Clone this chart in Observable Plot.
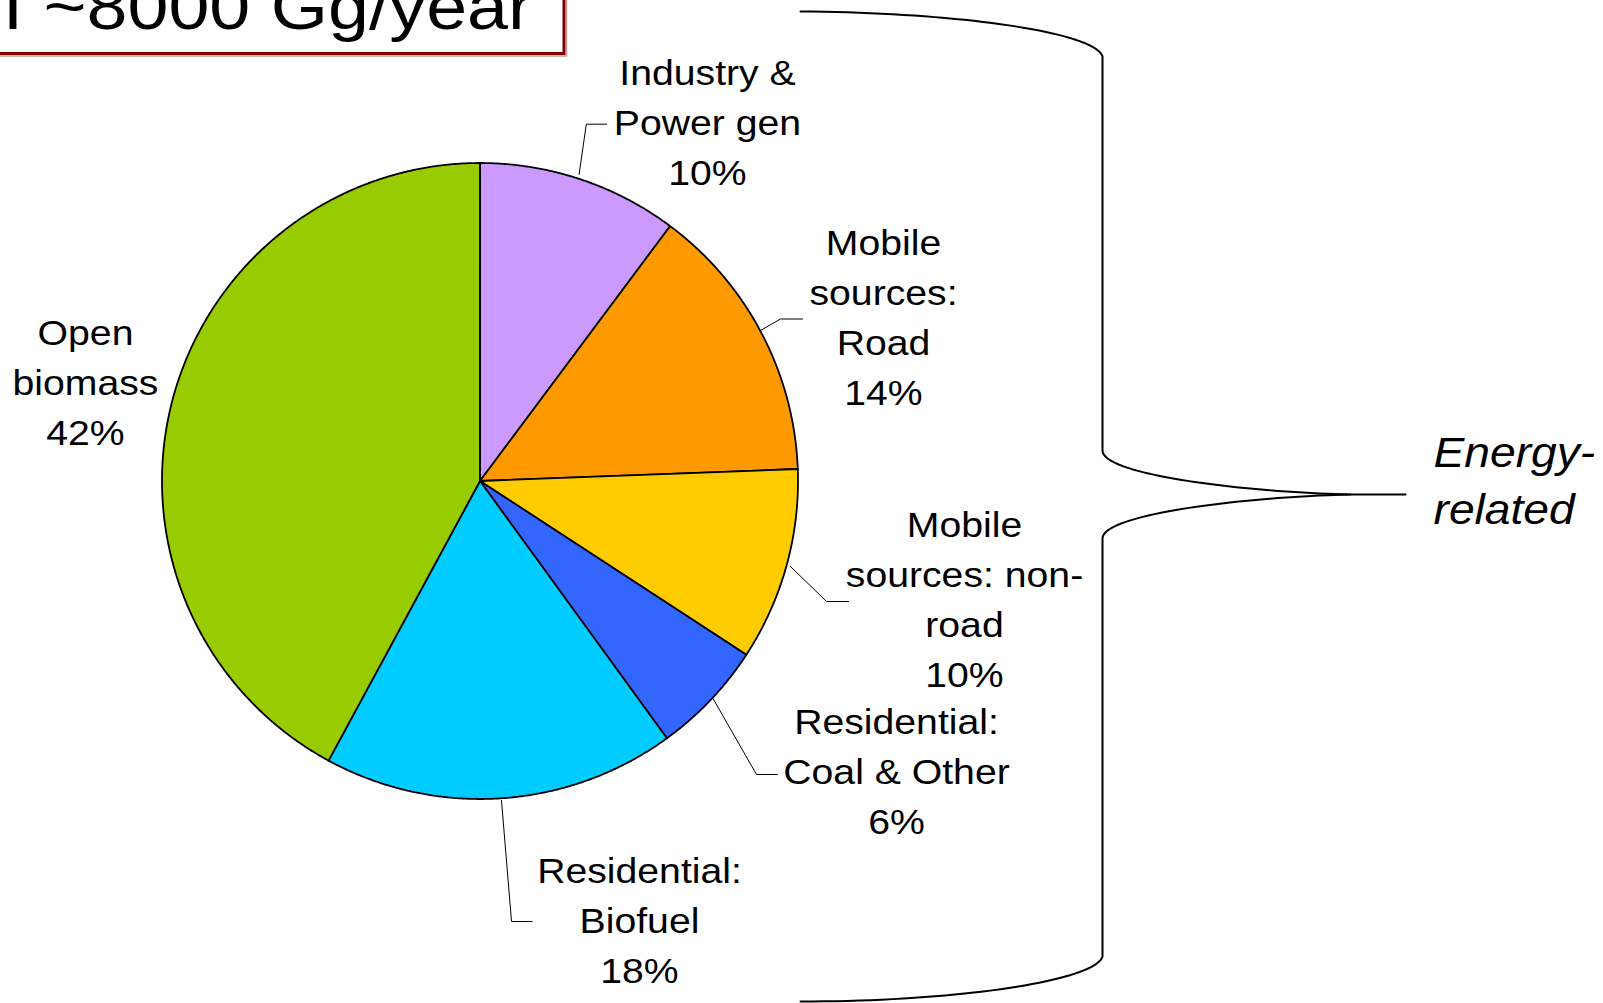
<!DOCTYPE html>
<html>
<head>
<meta charset="utf-8">
<script src="https://cdn.jsdelivr.net/npm/d3@7"></script>
<script src="https://cdn.jsdelivr.net/npm/@observablehq/plot@0.6"></script>
<style>
  html, body { margin: 0; padding: 0; background: #fff; overflow: hidden; }
  svg { display: block; }
</style>
</head>
<body>
<div id="chart"></div>
<script>
// ---------------- data ----------------
const categories = [
  "Industry &\nPower gen",
  "Mobile\nsources:\nRoad",
  "Mobile\nsources: non-\nroad",
  "Residential:\nCoal & Other",
  "Residential:\nBiofuel",
  "Open\nbiomass"
];
const values = [10.2, 14.2, 9.8, 5.8, 17.9, 42.1];   // percent of total
const sliceColors = ["#CC99FF", "#FF9900", "#FFCC00", "#3366FF", "#00CCFF", "#99CC00"];
const titleText = "I ~8000 Gg/year";
const groupLabel = "Energy-\nrelated";

// ---------------- layout (pixels) ----------------
const W = 1603, H = 1003;
const pie = {cx: 479.5, cy: 480.5, r: 318};
const labelLayout = [
  {x: 707, y: 184.6, leader: [[578.6, 174], [585.8, 123.7], [606, 123.7]]},
  {x: 883, y: 404, leader: [[760, 330], [780, 318.5], [802, 318.5]]},
  {x: 964, y: 686, leader: [[790, 566], [826, 601], [848, 601]]},
  {x: 896, y: 833.5, leader: [[712.5, 698], [756, 774], [777, 774]]},
  {x: 639, y: 982, leader: [[501, 800], [511, 921], [531.5, 921]]},
  {x: 85, y: 444.5, leader: null}
];
const titleBox = {x1: -10, x2: 564, y1: -10, y2: 53.5};

// ---------------- build geometry ----------------
const arcs = d3.pie().sort(null).value(d => d.value)(
  categories.map((name, i) => ({name, value: values[i], color: sliceColors[i]}))
);
const slicePts = [];
arcs.forEach(a => {
  const n = Math.max(2, Math.ceil((a.endAngle - a.startAngle) / (Math.PI / 720)));
  slicePts.push({name: a.data.name, color: a.data.color, x: pie.cx, y: pie.cy});
  for (let k = 0; k <= n; k++) {
    const t = a.startAngle + (a.endAngle - a.startAngle) * k / n;
    slicePts.push({name: a.data.name, color: a.data.color,
      x: pie.cx + pie.r * Math.sin(t), y: pie.cy - pie.r * Math.cos(t)});
  }
  slicePts.push({name: a.data.name, color: a.data.color, x: pie.cx, y: pie.cy});
});

const labels = arcs.map((a, i) => ({
  text: a.data.name + "\n" + Math.round(a.data.value) + "%",
  x: labelLayout[i].x, y: labelLayout[i].y
}));
const leaderPts = [];
labelLayout.forEach((l, i) => {
  if (l.leader) l.leader.forEach(([x, y]) => leaderPts.push({id: i, x, y}));
});

// brace built from cubic bezier segments
function bez(p0, p1, p2, p3, n = 40) {
  const out = [];
  for (let k = 0; k <= n; k++) {
    const t = k / n, u = 1 - t;
    out.push([
      u*u*u*p0[0] + 3*u*u*t*p1[0] + 3*u*t*t*p2[0] + t*t*t*p3[0],
      u*u*u*p0[1] + 3*u*u*t*p1[1] + 3*u*t*t*p2[1] + t*t*t*p3[1]
    ]);
  }
  return out;
}
const braceTop = [
  ...bez([800, 11], [960, 12], [1095, 32], [1102, 56]),
  [1102, 450],
  ...bez([1102, 450], [1102, 475], [1250, 492], [1350, 494]),
  [1405, 494]
];
const braceBottom = [
  ...bez([1350, 494], [1250, 496], [1102, 513], [1102, 538]),
  [1102, 956],
  ...bez([1102, 956], [1095, 980], [960, 1001], [800, 1001])
];
const bracePts = [
  ...braceTop.map(([x, y]) => ({id: "top", x, y})),
  ...braceBottom.map(([x, y]) => ({id: "bottom", x, y}))
];
const shadowPts = [[566, -5], [566, 55.5], [-5, 55.5]].map(([x, y]) => ({x, y}));

const font = "'Liberation Sans', Arial, Helvetica, sans-serif";

const chart = Plot.plot({
  width: W, height: H,
  margin: 0,
  style: {background: "white", overflow: "visible"},
  x: {domain: [0, W], range: [0, W], axis: null},
  y: {domain: [0, H], range: [0, H], axis: null},
  color: {type: "identity"},
  marks: [
    Plot.line(shadowPts, {x: "x", y: "y", stroke: "#c89a9a", strokeWidth: 1.4}),
    Plot.rect([titleBox], {x1: "x1", x2: "x2", y1: "y1", y2: "y2",
      fill: "white", stroke: "#800000", strokeWidth: 3}),
    Plot.text([titleText], {x: () => 532, y: () => 28, text: d => d, textAnchor: "end",
      lineAnchor: "bottom", fontSize: 64, fontFamily: font, fill: "black"}),
    Plot.line(slicePts, {x: "x", y: "y", z: "name", fill: "color", stroke: "black",
      strokeWidth: 1.8, strokeLinejoin: "round", curve: "linear"}),
    Plot.line(leaderPts, {x: "x", y: "y", z: "id", stroke: "black", strokeWidth: 1}),
    Plot.text(labels, {x: "x", y: "y", text: "text", textAnchor: "middle",
      lineAnchor: "bottom", lineHeight: 50 / 35, fontSize: 35, fontFamily: font, fill: "black"}),
    Plot.line(bracePts, {x: "x", y: "y", z: "id", stroke: "black", strokeWidth: 2}),
    Plot.text([groupLabel], {x: () => 1433, y: () => 523, text: d => d, textAnchor: "start",
      lineAnchor: "bottom", lineHeight: 57 / 42, fontSize: 42, fontStyle: "italic",
      fontFamily: font, fill: "black"})
  ]
});

// horizontal stretch of the text, as in the reference rendering
const stretch = {"35": 1.12, "42": 1.1, "64": 1.15};
chart.querySelectorAll('g[aria-label="text"]').forEach(g => {
  const k = stretch[g.getAttribute("font-size")] || 1;
  g.querySelectorAll("text").forEach(t => {
    t.setAttribute("transform", (t.getAttribute("transform") || "") + ` scale(${k},1)`);
  });
});

document.getElementById("chart").appendChild(chart);
</script>
</body>
</html>
